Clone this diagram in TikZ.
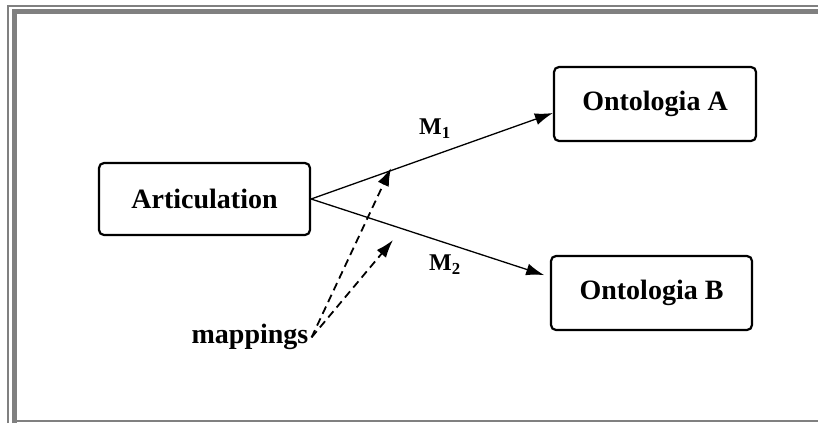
\documentclass[tikz,border=0pt]{standalone}
\usepackage{fontspec}
\setmainfont{Liberation Serif}
\usetikzlibrary{arrows.meta}
\definecolor{framegray}{RGB}{128,128,128}
\begin{document}
\begin{tikzpicture}[x=1pt,y=-1pt,
		box/.style={draw,line width=2.2,rounded corners=5,minimum width=201,minimum height=73,font=\fontsize{28}{30}\selectfont\bfseries},
		lab/.style={inner sep=0,font=\fontsize{28}{30}\selectfont\bfseries},
		mlab/.style={inner sep=0,font=\fontsize{24}{26}\selectfont\bfseries},
		conn/.style={line width=1.3,-{Latex[length=18,width=12]}},
		mapconn/.style={line width=1.8,dash pattern=on 8 off 5,-{Latex[length=18,width=12]}}]
	\useasboundingbox (0,0) rectangle (818,423);
	% frame
	\draw [framegray,line width=1.7] (8.3,423) -- (8.3,6.2) -- (818,6.2);
	\draw [framegray,line width=4.5] (14.3,423) -- (14.3,11.5) -- (818,11.5);
	\draw [framegray,line width=2] (12,421) -- (818,421);
	% nodes
	\node[box,minimum width=211,minimum height=72] (art) at (204.5,199) {Articulation};
	\node[box,minimum width=202,minimum height=74] (ontA) at (655,104) {Ontologia A};
	\node[box,minimum width=201,minimum height=74] (ontB) at (651.5,293) {Ontologia B};
	\node[lab,anchor=base] (map) at (250,343) {mappings};
	\node[mlab] (m1) at (435,129) {M\textsubscript{1}};
	\node[mlab] (m2) at (445,265) {M\textsubscript{2}};
	\coordinate (tA) at (391,168);
	\coordinate (tB) at (393,240);
	% mappings
	\draw [conn] (art.east) -- ([yshift=-9]ontA.west);
	\draw [conn, shorten >=6] (art.east) -- ([yshift=16]ontB.west);
	\draw [mapconn] ([xshift=3,yshift=-1]map.east) -- (tA);
	\draw [mapconn] ([xshift=3,yshift=-1]map.east) -- (tB);
\end{tikzpicture}
\end{document}
